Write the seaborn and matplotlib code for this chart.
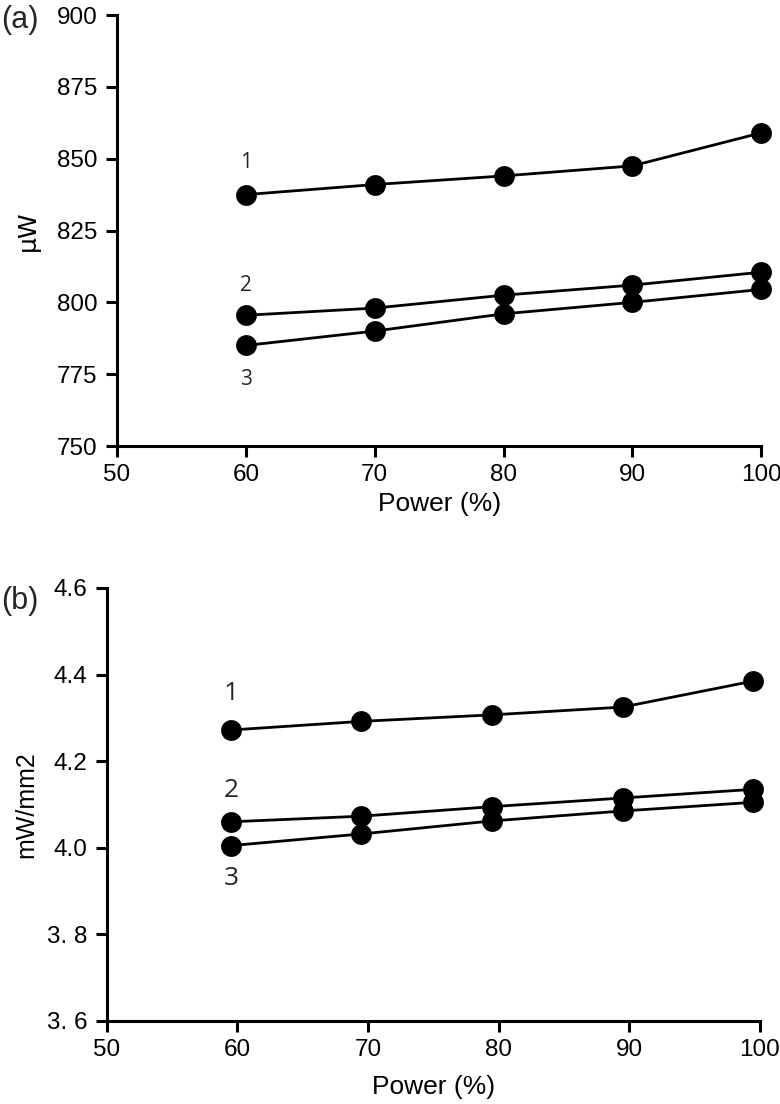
import matplotlib
matplotlib.use("Agg")
import matplotlib.pyplot as plt
import seaborn as sns
import pandas as pd

# ---- data ----
power_a = [60, 70, 80, 90, 100]
a_series1 = [837.5, 841, 844, 847.5, 859]
a_series2 = [795.5, 798, 802.5, 806, 810.5]
a_series3 = [785, 790, 796, 800, 804.5]
a_yticks = [750, 775, 800, 825, 850, 875, 900]
a_labels = ["1", "2", "3"]
a_label_y = [848.5, 806, 773]

power_b = [59.5, 69.5, 79.5, 89.5, 99.5]
b_series1 = [4.272, 4.292, 4.307, 4.325, 4.385]
b_series2 = [4.060, 4.073, 4.095, 4.115, 4.135]
b_series3 = [4.005, 4.032, 4.062, 4.085, 4.105]
b_yticks = [3.6, 3.8, 4.0, 4.2, 4.4, 4.6]
b_yticklabels = ["3. 6", "3. 8", "4.0", "4.2", "4.4", "4.6"]
b_label_y = [4.357, 4.133, 3.93]

xticks = [50, 60, 70, 80, 90, 100]

sns.set_theme(style="ticks")
plt.rcParams['font.family'] = ['Liberation Sans', 'DejaVu Sans']

fig = plt.figure(figsize=(7.8, 11.04), dpi=100)
ax_a = fig.add_axes([0.150, 0.596, 0.826, 0.3904])
ax_b = fig.add_axes([0.137, 0.0752, 0.837, 0.3922])

def make_df(x, s1, s2, s3):
    rows = []
    for name, s in zip(["1", "2", "3"], [s1, s2, s3]):
        for xi, yi in zip(x, s):
            rows.append({"power": xi, "value": yi, "series": name})
    return pd.DataFrame(rows)

df_a = make_df(power_a, a_series1, a_series2, a_series3)
df_b = make_df(power_b, b_series1, b_series2, b_series3)

pal = {"1": "black", "2": "black", "3": "black"}

for ax, df in [(ax_a, df_a), (ax_b, df_b)]:
    sns.lineplot(data=df, x="power", y="value", hue="series", palette=pal,
                 marker="o", markersize=15, markeredgewidth=0, linewidth=2.0,
                 legend=False, ax=ax, clip_on=False)
    sns.despine(ax=ax)
    for sp in ["left", "bottom"]:
        ax.spines[sp].set_linewidth(2.2)
        ax.spines[sp].set_color("black")
    ax.tick_params(axis="both", direction="out", length=8, width=2.2,
                   colors="black", labelsize=17.5)
    ax.tick_params(axis="y", pad=6)
    ax.tick_params(axis="x", pad=5)
    ax.set_xlim(50, 100)
    ax.set_xticks(xticks)
    ax.set_facecolor("white")

ax_a.set_xlabel("Power (%)", fontsize=19, color="black", labelpad=4)
ax_b.set_xlabel("Power (%)", fontsize=19, color="black", labelpad=10)

ax_a.set_ylim(750, 900)
ax_a.set_yticks(a_yticks)
ax_a.set_ylabel("μW", fontsize=18, color="black", labelpad=12, family=['DejaVu Sans'])

ax_b.set_ylim(3.6, 4.6)
ax_b.set_yticks(b_yticks)
ax_b.set_yticklabels(b_yticklabels)
ax_b.set_ylabel("mW/mm2", fontsize=18, color="black", labelpad=6)

lab_font = ['Open Sans', 'DejaVu Sans']
for lab, yv in zip(a_labels, a_label_y):
    ax_a.text(power_a[0], yv, lab, ha="center", va="center", fontsize=15, family=lab_font)
for lab, yv in zip(a_labels, b_label_y):
    ax_b.text(power_b[0], yv, lab, ha="center", va="center", fontsize=19, family=lab_font)

fig.text(0.002, 0.982, "(a)", fontsize=22, ha="left", va="center")
fig.text(0.002, 0.456, "(b)", fontsize=22, ha="left", va="center")

fig.savefig("out.png", dpi=100, facecolor="white")
